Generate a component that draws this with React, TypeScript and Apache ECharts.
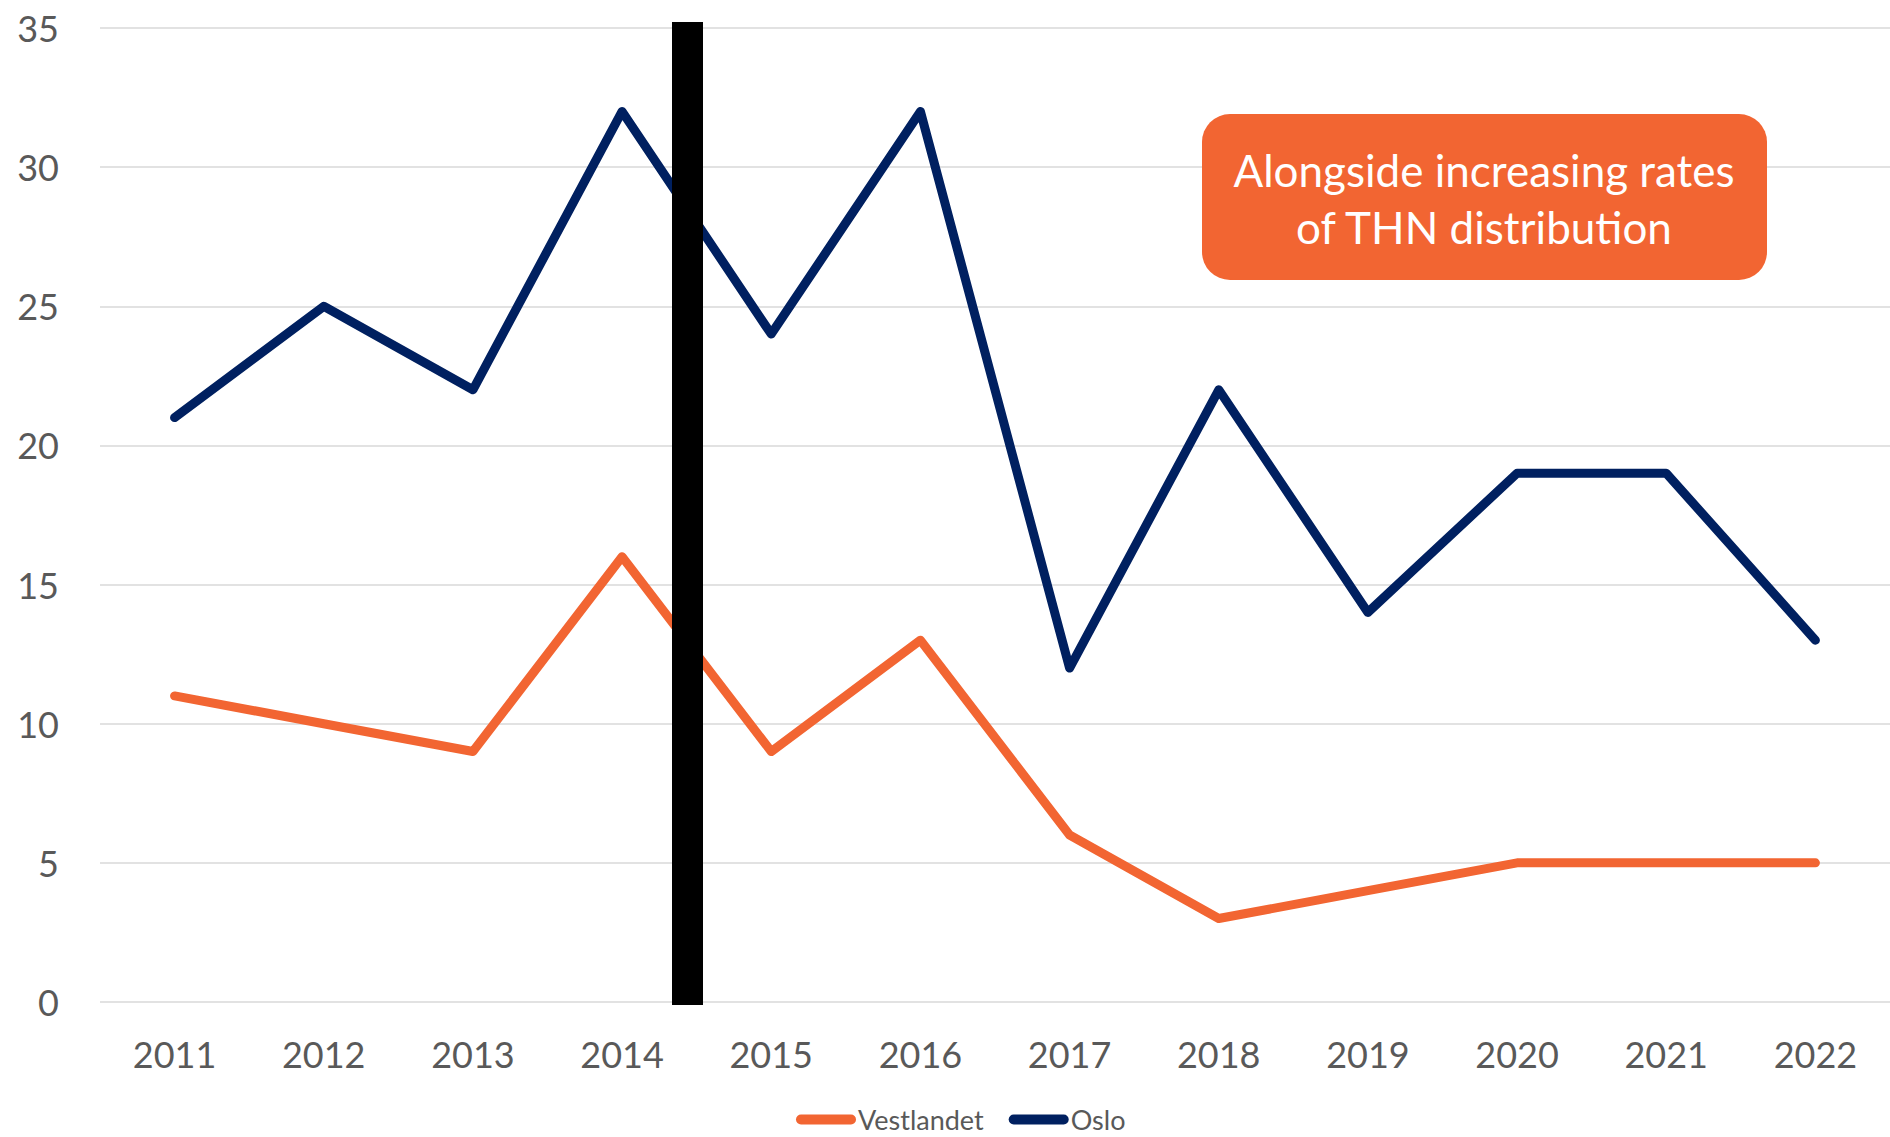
import React, { useEffect, useRef } from "react";
import * as echarts from "echarts";

const years = ["2011", "2012", "2013", "2014", "2015", "2016", "2017", "2018", "2019", "2020", "2021", "2022"];
const vestlandet = [11, 10, 9, 16, 9, 13, 6, 3, 4, 5, 5, 5];
const oslo = [21, 25, 22, 32, 24, 32, 12, 22, 14, 19, 19, 13];
const calloutLines = ["Alongside increasing rates", "of THN distribution"];

const ORANGE = "#F26532";
const NAVY = "#002060";
const legendIcon = "path://M5,0 H55 A5,5 0 0 1 55,10 H5 A5,5 0 0 1 5,0 Z";

export default function App() {
  const ref = useRef<HTMLDivElement>(null);
  useEffect(() => {
    if (!ref.current) return;
    const chart = echarts.init(ref.current, undefined, { renderer: "svg" });
    chart.setOption({
      animation: false,
      backgroundColor: "#ffffff",
      textStyle: { fontFamily: "Lato" },
      grid: { left: 100, right: 0, top: 28, bottom: 135, containLabel: false },
      legend: {
        top: 1106,
        left: 796,
        padding: 0,
        itemWidth: 60,
        itemHeight: 10,
        itemGap: 25,
        textStyle: { fontFamily: "Lato", fontSize: 27, color: "#595959", padding: [0, 0, 0, -3] },
        data: [
          { name: "Vestlandet", icon: legendIcon },
          { name: "Oslo", icon: legendIcon },
        ],
      },
      xAxis: {
        type: "category",
        data: years,
        boundaryGap: true,
        axisLine: { show: false },
        axisTick: { show: false },
        axisLabel: { fontFamily: "Lato", fontSize: 36, color: "#595959", margin: 34 },
      },
      yAxis: {
        type: "value",
        min: 0,
        max: 35,
        interval: 5,
        axisLine: { show: false },
        axisTick: { show: false },
        splitLine: { lineStyle: { color: "#D9D9D9", width: 1.5 } },
        axisLabel: { fontFamily: "Lato", fontSize: 36, color: "#595959", margin: 41 },
      },
      series: [
        {
          name: "Vestlandet",
          type: "line",
          data: vestlandet,
          showSymbol: false,
          symbol: "none",
          itemStyle: { color: ORANGE },
          lineStyle: { color: ORANGE, width: 9, cap: "round", join: "round" },
        },
        {
          name: "Oslo",
          type: "line",
          data: oslo,
          showSymbol: false,
          symbol: "none",
          itemStyle: { color: NAVY },
          lineStyle: { color: NAVY, width: 9, cap: "round", join: "round" },
        },
      ],
      graphic: [
        {
          type: "rect",
          z: 100,
          shape: { x: 672, y: 22, width: 31, height: 983 },
          style: { fill: "#000000" },
        },
        {
          type: "rect",
          z: 100,
          shape: { x: 1202, y: 114, width: 565, height: 166, r: 28 },
          style: { fill: ORANGE },
        },
        {
          type: "text",
          z: 101,
          x: 1484,
          y: 198,
          style: {
            text: calloutLines.join("\n"),
            fill: "#ffffff",
            font: "44px Lato",
            fontFamily: "Lato",
            fontSize: 44,
            lineHeight: 57,
            align: "center",
            verticalAlign: "middle",
          },
        },
      ],
    });
    return () => chart.dispose();
  }, []);
  return <div ref={ref} style={{ position: "fixed", left: 0, top: 0, width: 1890, height: 1137 }} />;
}
